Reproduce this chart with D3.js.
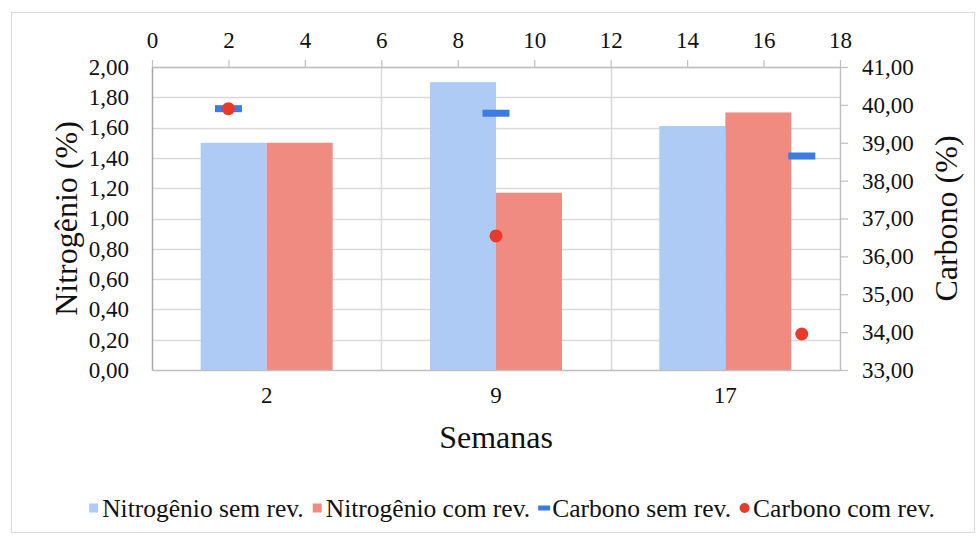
<!DOCTYPE html>
<html>
<head>
<meta charset="utf-8">
<script src="https://cdn.jsdelivr.net/npm/d3@7"></script>
<style>
  body { margin: 0; background: #fff; }
  svg text { font-family: "Liberation Serif", Tinos, "Times New Roman", Times, "DejaVu Serif", serif !important; fill: #111; }
</style>
</head>
<body>
<svg id="chart" width="978" height="538"></svg>
<script>
// Weeks (category axis) and nitrogen content (%) per treatment
const semanas = ["2", "9", "17"];
const nitrogenioSemRev = [1.50, 1.90, 1.61];
const nitrogenioComRev = [1.50, 1.17, 1.70];

// Carbon content (%) plotted against the numeric week axis on top
const semanaNum = [2, 9, 17];
const carbonoSemRev = [39.90, 39.78, 38.65];
const carbonoComRev = [39.90, 36.54, 33.95];

// Axis ticks
const nitrogenioTicks = [0, 0.2, 0.4, 0.6, 0.8, 1.0, 1.2, 1.4, 1.6, 1.8, 2.0];
const carbonoTicks = [33, 34, 35, 36, 37, 38, 39, 40, 41];
const semanaTicks = [0, 2, 4, 6, 8, 10, 12, 14, 16, 18];

const legendLabels = ["Nitrogênio sem rev.", "Nitrogênio com rev.", "Carbono sem rev.", "Carbono com rev."];

const colors = {
  nSem: "#aecbf5",
  nCom: "#f08b81",
  cSem: "#3c7be0",
  cCom: "#e8392b",
  grid: "#d9d9d9",
  axis: "#bfbfbf"
};

const FONT = '"Liberation Serif", Tinos, "Times New Roman", Times, "DejaVu Serif", serif';

const svg = d3.select("#chart");
const plot = { left: 152, right: 840, top: 67, bottom: 370 };

const fmt = v => d3.format(".2f")(v).replace(".", ",");

// chart frame
svg.append("rect")
  .attr("x", 11.5).attr("y", 12.5)
  .attr("width", 963).attr("height", 520)
  .attr("fill", "#fff").attr("stroke", "#d9d9d9").attr("stroke-width", 1);

// scales
const xBand = d3.scaleBand().domain(semanas).range([plot.left, plot.right]).paddingInner(0).paddingOuter(0);
const xNum = d3.scaleLinear().domain([0, 18]).range([plot.left, plot.right]);
const yN = d3.scaleLinear().domain([0, 2]).range([plot.bottom, plot.top]);
const yC = d3.scaleLinear().domain([33, 41]).range([plot.bottom, plot.top]);

// horizontal gridlines (nitrogen axis)
svg.append("g")
  .selectAll("line")
  .data(nitrogenioTicks.slice(1))
  .join("line")
  .attr("x1", plot.left).attr("x2", plot.right)
  .attr("y1", d => Math.round(yN(d)) + 0.5).attr("y2", d => Math.round(yN(d)) + 0.5)
  .attr("stroke", colors.grid).attr("stroke-width", 1.5);

// vertical gridlines at category boundaries
svg.append("g")
  .selectAll("line")
  .data(semanas.slice(1))
  .join("line")
  .attr("x1", d => Math.round(xBand(d)) + 0.5).attr("x2", d => Math.round(xBand(d)) + 0.5)
  .attr("y1", plot.top).attr("y2", plot.bottom)
  .attr("stroke", colors.grid).attr("stroke-width", 1.5);

// clustered bars
const barW = 66;
const bars = svg.append("g");
bars.selectAll("rect.sem")
  .data(semanas)
  .join("rect")
  .attr("class", "sem")
  .attr("x", d => xBand(d) + xBand.bandwidth() / 2 - barW)
  .attr("width", barW)
  .attr("y", (d, i) => yN(nitrogenioSemRev[i]))
  .attr("height", (d, i) => yN(0) - yN(nitrogenioSemRev[i]))
  .attr("fill", colors.nSem);
bars.selectAll("rect.com")
  .data(semanas)
  .join("rect")
  .attr("class", "com")
  .attr("x", d => xBand(d) + xBand.bandwidth() / 2)
  .attr("width", barW)
  .attr("y", (d, i) => yN(nitrogenioComRev[i]))
  .attr("height", (d, i) => yN(0) - yN(nitrogenioComRev[i]))
  .attr("fill", colors.nCom);

function styleAxisText(ax) {
  ax.attr("font-family", FONT);
  ax.selectAll("text").attr("font-size", 23).attr("fill", "#111").style("font-family", FONT);
}

// left axis (no tick marks, labels only)
const axL = svg.append("g").attr("transform", `translate(${plot.left},0)`)
  .call(d3.axisLeft(yN).tickValues(nitrogenioTicks).tickFormat(fmt).tickSize(0).tickPadding(23));
axL.select(".domain").attr("stroke", "#a6a6a6").attr("stroke-width", 1.5);
styleAxisText(axL);

// bottom category axis
const axB = svg.append("g").attr("transform", `translate(0,${plot.bottom})`)
  .call(d3.axisBottom(xBand).tickSize(0).tickPadding(17));
axB.select(".domain").attr("stroke", colors.axis).attr("stroke-width", 1.5);
styleAxisText(axB);

// top numeric week axis
const axT = svg.append("g").attr("transform", `translate(0,${plot.top})`)
  .call(d3.axisTop(xNum).tickValues(semanaTicks).tickFormat(d3.format("d")).tickSize(7).tickSizeOuter(0).tickPadding(12));
axT.select(".domain").attr("stroke", colors.axis).attr("stroke-width", 1.5);
axT.selectAll(".tick line").attr("stroke", colors.axis).attr("stroke-width", 1.2);
styleAxisText(axT);

// right carbon axis
const axR = svg.append("g").attr("transform", `translate(${plot.right},0)`)
  .call(d3.axisRight(yC).tickValues(carbonoTicks).tickFormat(fmt).tickSize(8).tickSizeOuter(0).tickPadding(14));
axR.select(".domain").attr("stroke", colors.axis).attr("stroke-width", 1.5);
axR.selectAll(".tick line").attr("stroke", colors.axis).attr("stroke-width", 1.2);
styleAxisText(axR);

// carbon markers: dash for "sem rev.", dot for "com rev."
const dashW = 27, dashH = 7;
svg.append("g").selectAll("rect")
  .data(semanaNum)
  .join("rect")
  .attr("x", d => xNum(d) - dashW / 2)
  .attr("y", (d, i) => yC(carbonoSemRev[i]) - dashH / 2)
  .attr("width", dashW).attr("height", dashH)
  .attr("fill", colors.cSem);
svg.append("g").selectAll("circle")
  .data(semanaNum)
  .join("circle")
  .attr("cx", d => xNum(d))
  .attr("cy", (d, i) => yC(carbonoComRev[i]))
  .attr("r", 6.5)
  .attr("fill", colors.cCom);

// axis titles
svg.append("text")
  .attr("transform", `translate(77,${(plot.top + plot.bottom) / 2}) rotate(-90)`)
  .attr("text-anchor", "middle")
  .attr("font-size", 32)
  .text("Nitrogênio  (%)");
svg.append("text")
  .attr("transform", `translate(957,${(plot.top + plot.bottom) / 2}) rotate(-90)`)
  .attr("text-anchor", "middle")
  .attr("font-size", 32)
  .text("Carbono  (%)");
svg.append("text")
  .attr("x", (plot.left + plot.right) / 2)
  .attr("y", 448)
  .attr("text-anchor", "middle")
  .attr("font-size", 32)
  .text("Semanas");

// legend
const legY = 508;
const legend = svg.append("g");
const symbols = [
  g => g.append("rect").attr("x", 0).attr("y", -4.5).attr("width", 9).attr("height", 9).attr("fill", colors.nSem),
  g => g.append("rect").attr("x", 0).attr("y", -4.5).attr("width", 9).attr("height", 9).attr("fill", colors.nCom),
  g => g.append("rect").attr("x", -1).attr("y", -2.5).attr("width", 12).attr("height", 5).attr("fill", colors.cSem),
  g => g.append("circle").attr("cx", 4.5).attr("cy", 0).attr("r", 5).attr("fill", colors.cCom)
];
const itemGap = 9;
let cursor = 0;
legendLabels.forEach((label, i) => {
  const g = legend.append("g");
  symbols[i](g);
  const t = g.append("text")
    .attr("x", 13).attr("y", 0).attr("dy", "0.35em")
    .attr("font-size", 25.5)
    .text(label);
  const w = 13 + t.node().getComputedTextLength();
  g.attr("transform", `translate(${cursor},${legY})`);
  cursor += w + itemGap;
});
const totalW = cursor - itemGap;
legend.attr("transform", `translate(${512 - totalW / 2},0)`);
</script>
</body>
</html>
